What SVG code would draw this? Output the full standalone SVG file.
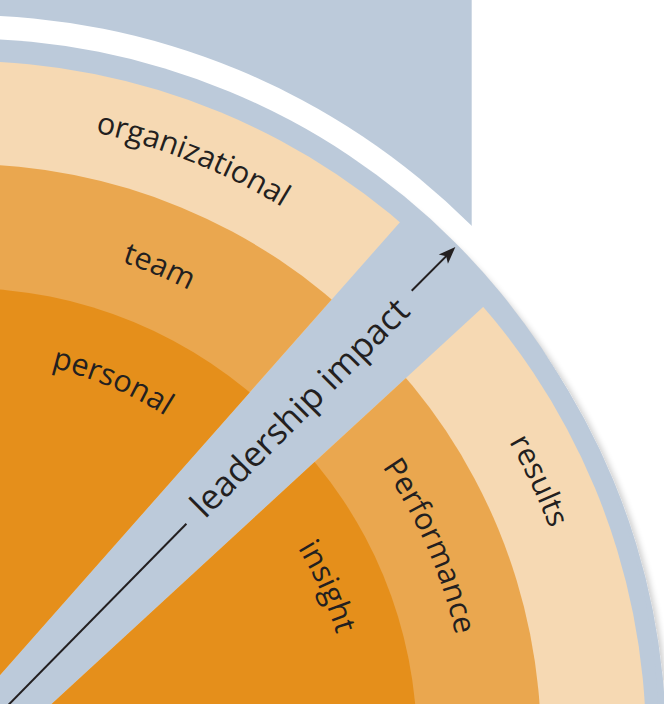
<svg xmlns="http://www.w3.org/2000/svg" xmlns:xlink="http://www.w3.org/1999/xlink" width="664" height="704" viewBox="0 0 664 704">
  <style>
    .blue { fill: #bccada; }
    .light { fill: #f6d9b3; }
    .mid { fill: #eaa74f; }
    .dark { fill: #e58f1b; }
    .lbl { font-family: "Open Sans", "Noto Sans", "DejaVu Sans", sans-serif; font-size: 30.5px; fill: #231f20; }
    .axis { stroke: #231f20; stroke-width: 2; fill: none; }
  </style>
  <defs>
    <clipPath id="clipLeft">
      <polygon points="-200,901.4 -200,-300 861.3,-300"/>
    </clipPath>
    <clipPath id="clipRight">
      <polygon points="-200,935.7 1142.4,-300 1142.4,1000 -200,1000"/>
    </clipPath>
    <filter id="shadow" x="-10%" y="-10%" width="120%" height="120%">
      <feGaussianBlur in="SourceAlpha" stdDeviation="3"/>
      <feOffset dx="3" dy="1" result="b"/>
      <feComponentTransfer><feFuncA type="linear" slope="0.2"/></feComponentTransfer>
      <feMerge><feMergeNode/><feMergeNode in="SourceGraphic"/></feMerge>
    </filter>
    <marker id="head" markerUnits="userSpaceOnUse" markerWidth="20" markerHeight="16" viewBox="-9 -8 20 16" refX="0" refY="0" orient="auto">
      <path d="M9,0 L-8,-6.5 L-4,0 L-8,6.5 Z" fill="#231f20"/>
    </marker>
    <path id="pOrg" d="M -124.9 124.3 A 616 616 0 0 1 447.1 353.1"/>
    <path id="pTeam" d="M -99.4 239.9 A 498 498 0 0 1 359.7 432.9"/>
    <path id="pPers" d="M -83 359.8 A 377 377 0 0 1 264.1 507.1"/>
    <path id="pRes" d="M 326.7 241.7 A 613 613 0 0 1 586.7 796.9"/>
    <path id="pPerf" d="M 267.9 348.5 A 492 492 0 0 1 464.9 799.3"/>
    <path id="pIns" d="M 196.5 438.7 A 377 377 0 0 1 351.1 782.6"/>
  </defs>

  <g id="background">
    <rect class="blue" x="0" y="0" width="471.7" height="240"/>
    <circle cx="-37" cy="734" r="719" fill="#ffffff"/>
    <circle class="blue" cx="-24" cy="744.5" r="690" filter="url(#shadow)"/>
    <circle class="blue" cx="-37" cy="734" r="695.5"/>
  </g>

  <g id="left-half" clip-path="url(#clipLeft)">
    <circle class="light" cx="-37" cy="734" r="673"/>
    <circle class="mid" cx="-37" cy="734" r="570"/>
    <circle class="dark" cx="-37" cy="734" r="446"/>
  </g>

  <g id="right-half" clip-path="url(#clipRight)">
    <circle class="light" cx="-24" cy="744.5" r="670"/>
    <circle class="mid" cx="-24" cy="744.5" r="565"/>
    <circle class="dark" cx="-24" cy="744.5" r="441"/>
  </g>

  <g id="organizational"><text class="lbl" text-anchor="middle"><textPath xlink:href="#pOrg" startOffset="50%">organizational</textPath></text></g>
  <g id="team"><text class="lbl" text-anchor="middle"><textPath xlink:href="#pTeam" startOffset="50%">team</textPath></text></g>
  <g id="personal"><text class="lbl" text-anchor="middle"><textPath xlink:href="#pPers" startOffset="50%">personal</textPath></text></g>
  <g id="results"><text class="lbl" text-anchor="middle"><textPath xlink:href="#pRes" startOffset="50%">results</textPath></text></g>
  <g id="performance"><text class="lbl" text-anchor="middle"><textPath xlink:href="#pPerf" startOffset="50%">Performance</textPath></text></g>
  <g id="insight"><text class="lbl" text-anchor="middle"><textPath xlink:href="#pIns" startOffset="50%">insight</textPath></text></g>

  <g id="connectors">
    <line class="axis" x1="0" y1="713.5" x2="186.4" y2="523.7"/>
    <line class="axis" x1="411.7" y1="290.7" x2="449" y2="253.4" marker-end="url(#head)"/>
  </g>

  <g id="leadership-impact">
    <text class="lbl" style="font-size:35px" text-anchor="middle" transform="translate(308.2 416.3) rotate(-45)">leadership impact</text>
  </g>
</svg>
